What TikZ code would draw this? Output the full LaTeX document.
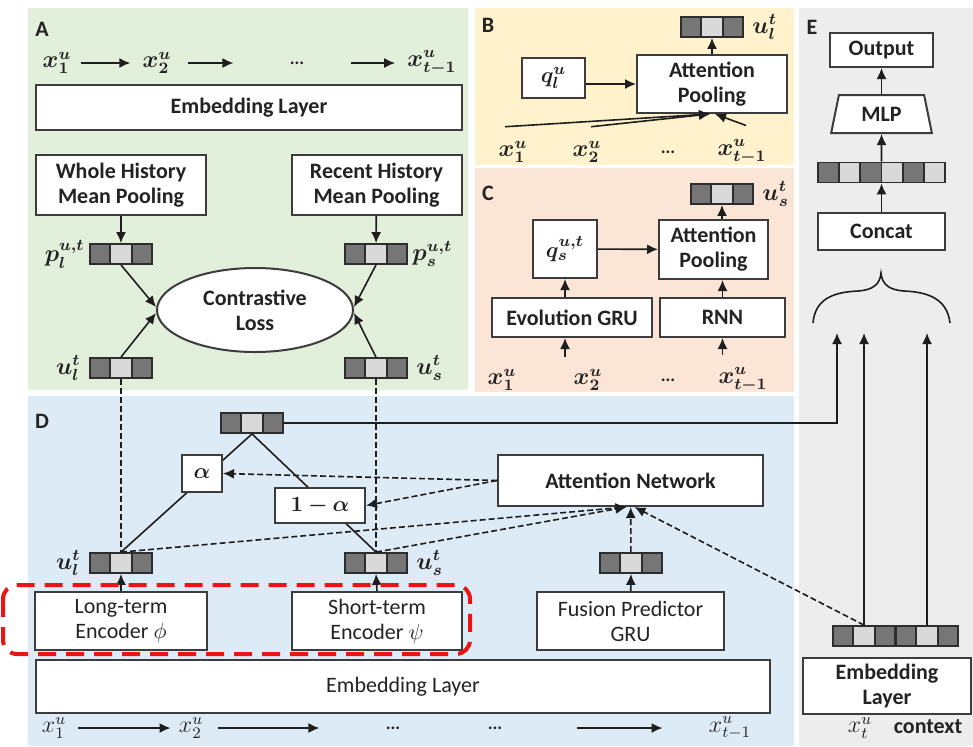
\documentclass[tikz,border=0pt]{standalone}
\usepackage{fontspec}
\setmainfont{Carlito}
\usepackage{amsmath,bm}
\usetikzlibrary{arrows.meta,shapes.geometric,shapes.multipart,positioning}

\definecolor{panelA}{RGB}{226,239,218}
\definecolor{panelB}{RGB}{255,242,204}
\definecolor{panelC}{RGB}{251,229,214}
\definecolor{panelD}{RGB}{221,235,247}
\definecolor{panelE}{RGB}{237,237,237}
\definecolor{vecDark}{RGB}{118,118,118}
\definecolor{vecLight}{RGB}{217,217,217}
\definecolor{vecLine}{RGB}{45,45,45}
\definecolor{boxLine}{RGB}{60,60,60}
\definecolor{lineDark}{RGB}{30,30,30}
\definecolor{textDark}{RGB}{35,35,35}
\definecolor{redDash}{RGB}{235,20,20}

\begin{document}
\begin{tikzpicture}[x=0.5pt, y=-0.5pt,
>={Latex[length=5.5pt,width=5pt]},
font=\fontsize{11}{12.5}\selectfont\bfseries,
rectBox/.style={rectangle, draw=boxLine, line width=1pt, fill=white, align=center, inner sep=1pt, text=textDark},
rectThin/.style={rectBox, font=\fontsize{11}{12.5}\selectfont},
rectVec/.style={rectangle split, rectangle split horizontal, rectangle split parts=3, rectangle split part fill={vecDark,vecLight,vecDark}, draw=vecLine, line width=0.9pt, rectangle split empty part width=5pt, minimum height=10pt, inner sep=0pt},
rectVecSix/.style={rectVec, rectangle split parts=6, rectangle split part fill={vecDark,vecLight,vecDark,vecLight,vecDark,vecLight}},
ellLoss/.style={ellipse, draw=boxLine, line width=1pt, fill=white, align=center, inner sep=0pt, text=textDark},
trapMLP/.style={trapezium, trapezium left angle=80, trapezium right angle=80, trapezium stretches=true, draw=boxLine, line width=1pt, fill=white, text=textDark},
lblMath/.style={inner sep=1pt, font=\fontsize{12}{13}\selectfont, text=textDark},
lblDots/.style={inner sep=1pt, font=\fontsize{9}{10}\selectfont\bfseries, text=textDark},
lblPanel/.style={inner sep=0pt, font=\fontsize{11}{13}\selectfont\bfseries, text=textDark},
lineSolid/.style={line width=0.8pt, color=lineDark},
lineDash/.style={line width=0.8pt, color=lineDark, dash pattern=on 3pt off 1.5pt}
]

\fill[panelA] (28,8) rectangle (468,390);
\fill[panelB] (475,8) rectangle (794,165);
\fill[panelC] (475,168) rectangle (794,392);
\fill[panelD] (28,396) rectangle (794,746);
\fill[panelE] (799,8) rectangle (973,746);
\useasboundingbox (0,0) rectangle (973,746);

\node[lblPanel] (lblA) at (42,29) {A};
\node[lblMath] (x1A) at (57,63) {$\bm{x_1^u}$};
\node[lblMath] (x2A) at (157,63) {$\bm{x_2^u}$};
\node[lblDots] (dotsA) at (297,63) {...};
\node[lblMath] (xtA) at (432,63) {$\bm{x_{t-1}^u}$};
\node[rectBox, minimum width=213pt, minimum height=22.5pt] (embA) at (249,107.5) {Embedding Layer};
\node[rectBox, minimum width=85pt, minimum height=30pt] (wholeA) at (121,185) {Whole History\\Mean Pooling};
\node[rectBox, minimum width=85pt, minimum height=30pt] (recentA) at (376.5,185) {Recent History\\Mean Pooling};
\node[rectVec] (plA) at (121,254) {};
\node[rectVec] (psA) at (376,254) {};
\node[lblMath, left=1pt of plA] (plLbl) {$\bm{p_l^{u,t}}$};
\node[lblMath, right=1pt of psA] (psLbl) {$\bm{p_s^{u,t}}$};
\node[ellLoss, minimum width=98pt, minimum height=42pt] (lossA) at (255,310) {Contrastive\\Loss};
\node[rectVec] (ulA) at (121,368) {};
\node[rectVec] (usA) at (376,368) {};
\node[lblMath, left=3pt of ulA] (ulALbl) {$\bm{u_l^t}$};
\node[lblMath, right=3pt of usA] (usALbl) {$\bm{u_s^t}$};

\path[->, lineSolid] (x1A) edge[shorten <=3.5pt, shorten >=5pt] (x2A)
      (x2A) edge[shorten <=7pt, shorten >=27pt] (dotsA)
      (dotsA) edge[shorten <=22pt, shorten >=5pt] (xtA)
      (wholeA) edge (plA)
      (recentA) edge (psA)
      (plA.south) edge ([yshift=1.5pt]lossA.west)
      (ulA.north) edge ([yshift=-1.5pt]lossA.west)
      (psA.south) edge ([yshift=1.5pt]lossA.east)
      (usA.north) edge ([yshift=-1.5pt]lossA.east);

\node[lblPanel] (lblB) at (488,25) {B};
\node[rectVec] (vecB) at (712,27) {};
\node[lblMath, right=3pt of vecB] (ulB) {$\bm{u_l^t}$};
\node[rectBox, minimum width=31.5pt, minimum height=20pt] (qB) at (553.5,78) {$\bm{q_l^u}$};
\node[rectBox, minimum width=75pt, minimum height=29pt] (attB) at (712,84) {Attention\\Pooling};
\node[lblMath] (x1B) at (513,152) {$\bm{x_1^u}$};
\node[lblMath] (x2B) at (587,152) {$\bm{x_2^u}$};
\node[lblDots] (dotsB) at (668,152) {...};
\node[lblMath] (xtB) at (742,152) {$\bm{x_{t-1}^u}$};

\path[->, lineSolid] (qB.east |- attB.west) edge (attB.west)
      (attB) edge (vecB)
      ([xshift=-4pt,yshift=6pt]x1B.north) edge ([xshift=-1pt]attB.south)
      ([xshift=2pt,yshift=6pt]x2B.north) edge ([xshift=-1pt]attB.south)
      ([xshift=2pt,yshift=6pt]xtB.north) edge ([xshift=1.5pt]attB.south);

\node[lblPanel] (lblC) at (488,193) {C};
\node[rectVec] (vecC) at (722,194) {};
\node[lblMath, right=3pt of vecC] (usC) {$\bm{u_s^t}$};
\node[rectBox, minimum width=32pt, minimum height=29pt] (qC) at (565,249) {$\bm{q_s^{u,t}}$};
\node[rectBox, minimum width=54.5pt, minimum height=29.5pt] (attC) at (713.5,249.5) {Attention\\Pooling};
\node[rectBox, minimum width=80pt, minimum height=19.5pt] (gruC) at (572,317.5) {Evolution GRU};
\node[rectBox, minimum width=62.5pt, minimum height=19.5pt] (rnnC) at (722.5,317.5) {RNN};
\node[lblMath] (x1C) at (502,380) {$\bm{x_1^u}$};
\node[lblMath] (x2C) at (588,380) {$\bm{x_2^u}$};
\node[lblDots] (dotsC) at (668,380) {...};
\node[lblMath] (xtC) at (743,380) {$\bm{x_{t-1}^u}$};

\path[->, lineSolid] (qC) edge (attC)
      (qC.south |- gruC.north) edge (qC.south)
      (rnnC.north) edge (rnnC.north |- attC.south)
      (vecC.south |- attC.north) edge (vecC.south)
      (qC.south |- x2C.north) edge[shorten <=5pt] (qC.south |- gruC.south)
      (rnnC.south |- xtC.north) edge[shorten <=5pt] (rnnC.south);

\node[lblPanel] (lblE) at (812,27) {E};
\node[rectBox, minimum width=51.5pt, minimum height=17pt] (outE) at (881.5,50) {Output};
\node[trapMLP, minimum width=50.5pt, minimum height=19pt] (mlpE) at (881.5,114) {MLP};
\node[rectVecSix] (catVec) at (881.5,172.5) {};
\node[rectBox, minimum width=63.5pt, minimum height=18.5pt] (catE) at (881.5,231.5) {Concat};
\draw[lineSolid] (813,323) .. controls (815,298) and (835,292) .. (858,291)
      .. controls (872,290) and (880,285) .. (881,273)
      .. controls (882,285) and (890,290) .. (904,291)
      .. controls (927,292) and (947,298) .. (950,323);
\coordinate (braceIn) at (837,333);
\node[rectBox, minimum width=84pt, minimum height=28pt] (embE) at (887,686) {Embedding\\Layer};
\node[rectVec] (vecE1) at (864,636) {};
\node[rectVec] (vecE2) at (927,636) {};
\node[lblMath] (xtE) at (860,728) {$x_t^u$};
\node[lblMath, font=\fontsize{11}{12.5}\selectfont\bfseries] (ctxE) at (928,727) {context};

\path[->, lineSolid] (mlpE) edge (outE)
      (catVec) edge (mlpE)
      (catE) edge (catVec)
      (vecE1.north) edge (vecE1.north |- braceIn)
      (vecE2.north) edge (vecE2.north |- braceIn);

\node[lblPanel] (lblD) at (42,421) {D};
\node[rectVec] (topD) at (252,423) {};
\node[rectVec] (ulD) at (121,563) {};
\node[rectVec] (usD) at (376,563) {};
\node[lblMath, left=3pt of ulD] (ulDLbl) {$\bm{u_l^t}$};
\node[lblMath, right=3pt of usD] (usDLbl) {$\bm{u_s^t}$};
\node[rectBox, minimum width=132.5pt, minimum height=25.5pt] (attN) at (630.5,480.5) {Attention Network};
\node[rectVec] (fusVec) at (631,563) {};
\node[rectThin, minimum width=86pt, minimum height=29pt] (longEnc) at (121,621) {Long-term\\Encoder $\phi$};
\node[rectThin, minimum width=85pt, minimum height=29pt] (shortEnc) at (377,621) {Short-term\\Encoder $\psi$};
\node[rectThin, minimum width=93.5pt, minimum height=29pt] (fusEnc) at (630.5,621) {Fusion Predictor\\GRU};
\node[rectThin, minimum width=367pt, minimum height=26.5pt] (embD) at (403,686.5) {Embedding Layer};
\node[lblMath] (x1D) at (54,728) {$x_1^u$};
\node[lblMath] (x2D) at (191,728) {$x_2^u$};
\node[lblDots] (dots1D) at (393,728) {...};
\node[lblDots] (dots2D) at (495,728) {...};
\node[lblMath] (xtD) at (730,728) {$x_{t-1}^u$};

\draw[->, lineSolid] (topD.east) -| (braceIn);

\path[lineSolid] (topD.south) edge (ulD.north)
      (topD.south) edge (usD.north);
\path[lineDash] (ulA.south) edge (ulD.north)
      (usA.south) edge (usD.north);
\path[->, lineSolid] (longEnc) edge (ulD)
      (shortEnc.north) edge (usD.south)
      (fusEnc) edge (fusVec)
      (x1D) edge[shorten <=5pt, shorten >=3pt] (x2D)
      (x2D) edge[shorten <=6pt, shorten >=32pt] (dots1D)
      (dots2D) edge[shorten <=36pt, shorten >=22pt] (xtD);

\node[rectBox, minimum width=20pt, minimum height=18.5pt] (alphaD) at (202,473.5) {$\bm{\alpha}$};
\node[rectBox, minimum width=45pt, minimum height=17.5pt] (oneAlphaD) at (320,505.5) {$\bm{1-\alpha}$};

\path[->, lineDash] (attN.west) edge (alphaD.east)
      (attN.west) edge (oneAlphaD.east)
      (ulD.north) edge ([xshift=-2pt]attN.south)
      (usD.north) edge ([xshift=-2pt]attN.south)
      (fusVec) edge (attN)
      (vecE1.north) edge ([xshift=2pt]attN.south);

\draw[redDash, line width=2pt, dash pattern=on 9pt off 5pt, rounded corners=7pt] (3,585) rectangle (470,654);

\end{tikzpicture}
\end{document}
